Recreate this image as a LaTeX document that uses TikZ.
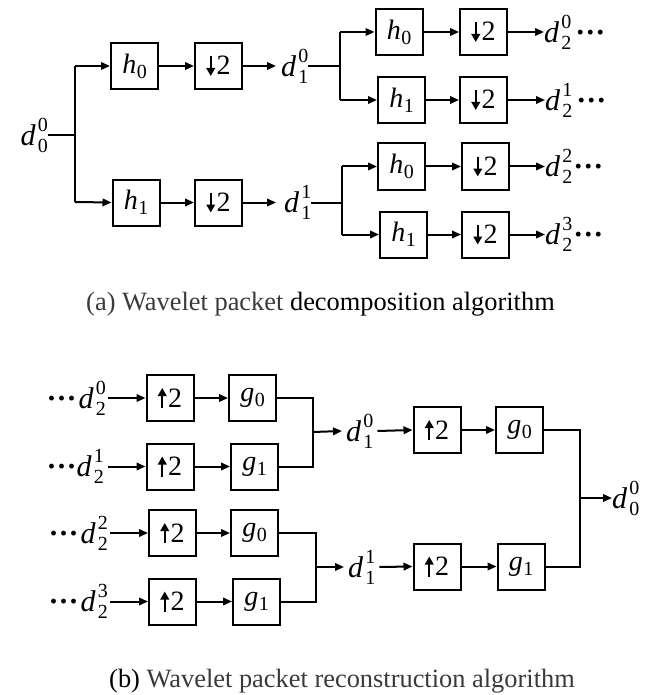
\documentclass[tikz,border=0pt]{standalone}
\usepackage{fontspec}
\setmainfont{Liberation Serif}
\usetikzlibrary{arrows.meta}
\newcommand\scr{\fontsize{20}{20}\selectfont}
\newcommand\dlab[2]{\textit{d}\kern2pt\makebox[0pt][l]{\raisebox{14pt}{\scr #2}}\raisebox{-7pt}{\scr #1}}
\newcommand\flab[2]{\textit{#1}\kern0.5pt\raisebox{-5pt}{\fontsize{20}{20}\selectfont #2}}
\newcommand\dnarr{\tikz[baseline=0pt,x=1pt,y=1pt]\draw[line width=2pt,-{Triangle[length=8pt,width=8.5pt]}] (0,19)--(0,-1);\kern1.5pt}
\newcommand\uparr{\tikz[baseline=0pt,x=1pt,y=1pt]\draw[line width=2pt,-{Triangle[length=8pt,width=8.5pt]}] (0,-1)--(0,19);\kern1.5pt}
\newcommand\mydots{\textbf{···}}
\tikzset{
  blk/.style={draw,line width=2pt,minimum width=47pt,minimum height=46pt,inner sep=0pt,font=\fontsize{28}{32}\selectfont},
  lbl/.style={inner sep=0pt,font=\fontsize{30}{34}\selectfont},
  conn/.style={line width=2pt},
  arr/.style={line width=2pt,-{Triangle[length=9pt,width=7.5pt]}},
  captxt/.style={inner sep=0pt,font=\fontsize{26.4}{30}\selectfont}
}
\begin{document}
\begin{tikzpicture}[x=1pt,y=-1pt]
\useasboundingbox (0,0) rectangle (660,695);
% ---------- (a) decomposition ----------
\node[lbl,anchor=east] (a00) at (48,135) {\dlab00};
\coordinate (ba) at (75,135);
\coordinate (ba1) at (75,66);
\coordinate (ba2) at (75,202);
\node[blk] (ah0) at (134.5,66) {\flab h0};
\node[blk] (ad0) at (218.5,66) {\dnarr2};
\node[blk] (ah1) at (136,202.5) {\flab h1};
\node[blk] (ad1) at (218.5,202.5) {\dnarr2};
\node[lbl,anchor=west] (a10) at (281,66) {\dlab10};
\node[lbl,anchor=west] (a11) at (284,202.5) {\dlab11};
\draw[conn] (a00.east) -- (ba);
\draw[conn] (ba1) -- (ba2);
\draw[arr] (ba1) -- (ah0.west);
\draw[arr] (ba2) -- (ah1.west);
\draw[arr] (ah0) -- (ad0);
\draw[arr] (ah1) -- (ad1);
\draw[arr] (ad0.east) -- ([xshift=-5pt]a10.west);
\draw[arr] (ad1.east) -- ([xshift=-8pt]a11.west);
% second level
\coordinate (bb) at (340,66);
\coordinate (bb1) at (340,32);
\coordinate (bb2) at (340,100);
\coordinate (bc) at (342,202.5);
\coordinate (bc1) at (342,166.5);
\coordinate (bc2) at (342,234.5);
\draw[conn] (a10.east) -- (bb);
\draw[conn] (bb1) -- (bb2);
\draw[conn] (a11.east) -- (bc);
\draw[conn] (bc1) -- (bc2);
\node[blk] (bh0) at (399,32) {\flab h0};
\node[blk] (bd0) at (483.5,32) {\dnarr2};
\node[blk] (bh1) at (401.5,100) {\flab h1};
\node[blk] (bd1) at (483.5,100) {\dnarr2};
\node[blk] (ch0) at (401.5,166.5) {\flab h0};
\node[blk] (cd0) at (485.5,166.5) {\dnarr2};
\node[blk] (ch1) at (403.5,234.5) {\flab h1};
\node[blk] (cd1) at (485.5,234.5) {\dnarr2};
\node[lbl,anchor=west] (a20) at (544,32) {\dlab20\kern4pt\mydots};
\node[lbl,anchor=west] (a21) at (545,100) {\dlab21\kern4pt\mydots};
\node[lbl,anchor=west] (a22) at (545,166.5) {\dlab22\kern1pt\mydots};
\node[lbl,anchor=west] (a23) at (545,234.5) {\dlab23\kern1pt\mydots};
\draw[arr] (bb1) -- (bh0.west);
\draw[arr] (bb2) -- (bh1.west);
\draw[arr] (bc1) -- (ch0.west);
\draw[arr] (bc2) -- (ch1.west);
\draw[arr] (bh0) -- (bd0);
\draw[arr] (bh1) -- (bd1);
\draw[arr] (ch0) -- (cd0);
\draw[arr] (ch1) -- (cd1);
\draw[arr] (bd0.east) -- (a20.west);
\draw[arr] (bd1.east) -- (a21.west);
\draw[arr] (cd0.east) -- (a22.west);
\draw[arr] (cd1.east) -- (a23.west);
\node[captxt,anchor=base] (capa) at (320.5,310) {\textcolor[HTML]{3A3A3A}{(a) Wavelet packet} decomposition algorithm};
% ---------- (b) reconstruction ----------
\node[lbl,anchor=east] (r20) at (106,398) {\mydots\kern2pt\dlab20};
\node[lbl,anchor=east] (r21) at (104,466.5) {\mydots\dlab21};
\node[lbl,anchor=east] (r22) at (108,533) {\mydots\kern2pt\dlab22};
\node[lbl,anchor=east] (r23) at (108,601.5) {\mydots\kern2pt\dlab23};
\node[blk] (ru0) at (170,398) {\uparr2};
\node[blk] (rg0) at (252.5,398) {\flab g0};
\node[blk] (ru1) at (170,466.5) {\uparr2};
\node[blk] (rg1) at (254.5,466.5) {\flab g1};
\node[blk] (ru2) at (172.5,533) {\uparr2};
\node[blk] (rg2) at (254.5,533) {\flab g0};
\node[blk] (ru3) at (172.5,601.5) {\uparr2};
\node[blk] (rg3) at (256.5,601.5) {\flab g1};
\draw[arr] ([xshift=2pt]r20.east) -- (ru0.west);
\draw[arr] ([xshift=4pt]r21.east) -- (ru1.west);
\draw[arr] ([xshift=2pt]r22.east) -- (ru2.west);
\draw[arr] ([xshift=2pt]r23.east) -- (ru3.west);
\draw[arr] (ru0) -- (rg0);
\draw[arr] (ru1) -- (rg1);
\draw[arr] (ru2) -- (rg2);
\draw[arr] (ru3) -- (rg3);
\coordinate (m1a) at (313,398);
\coordinate (m1b) at (313,466.5);
\coordinate (m1) at (313,432);
\coordinate (m2a) at (316,533);
\coordinate (m2b) at (316,601.5);
\coordinate (m2) at (316,567);
\draw[conn] (rg0.east) -- (m1a) -- (m1b) -- (rg1.east);
\draw[conn] (rg2.east) -- (m2a) -- (m2b) -- (rg3.east);
\node[lbl,anchor=west] (r10) at (346,431) {\dlab10};
\node[lbl,anchor=west] (r11) at (348,567) {\dlab11};
\draw[arr] (m1) -- ([xshift=-4pt]r10.west);
\draw[arr] (m2) -- ([xshift=-4pt]r11.west);
\node[blk] (su0) at (437,430) {\uparr2};
\node[blk] (sg0) at (519.5,430) {\flab g0};
\node[blk] (su1) at (437,566.5) {\uparr2};
\node[blk] (sg1) at (521,566.5) {\flab g1};
\draw[arr] ([xshift=4pt]r10.east) -- (su0.west);
\draw[arr] ([xshift=4pt]r11.east) -- (su1.west);
\draw[arr] (su0) -- (sg0);
\draw[arr] (su1) -- (sg1);
\coordinate (m3a) at (580,430);
\coordinate (m3b) at (580,566.5);
\coordinate (m3) at (580,498);
\draw[conn] (sg0.east) -- (m3a) -- (m3b) -- (sg1.east);
\node[lbl,anchor=west] (r00) at (612,498) {\dlab00};
\draw[arr] (m3) -- (r00.west);
\node[captxt,anchor=base] (capb) at (342,687) {(b) \textcolor[HTML]{3A3A3A}{Wavelet packet reconstruction algorithm}};
\end{tikzpicture}
\end{document}
